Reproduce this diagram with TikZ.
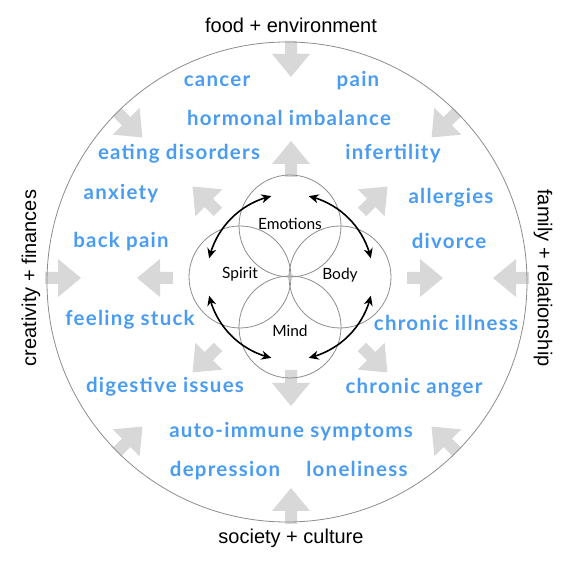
\documentclass[tikz,border=0pt]{standalone}
\usepackage{fontspec}
\setmainfont{Lato}
\newfontfamily\arialf{Liberation Sans}
\newfontfamily\issuefont[LetterSpace=6]{Lato}
\usetikzlibrary{arrows.meta,bending,calc}
\definecolor{issueblue}{RGB}{74,156,240}
\definecolor{arrowgrey}{RGB}{216,216,216}
\definecolor{ringgrey}{RGB}{140,140,140}
\tikzset{
 issue/.style={text=issueblue, font=\issuefont\fontsize{20.5}{22}\selectfont\bfseries, anchor=base, inner sep=0pt},
 factor/.style={font=\arialf\fontsize{20}{23}\selectfont, inner sep=0pt},
 aspect/.style={font=\fontsize{15.5}{17}\selectfont, anchor=base, inner sep=0pt},
 ring/.style={draw=ringgrey, line width=0.8pt},
 cyclearrow/.style={line width=1.6pt, {Stealth[length=10pt,width=9pt,flex]}-{Stealth[length=10pt,width=9pt,flex]}},
}
\newcommand{\blockarr}[3]{%
 \fill[arrowgrey, shift={(#1,#2)}, rotate=#3] (0,-6) -- (13,-6) -- (13,-19) -- (36,0) -- (13,19) -- (13,6) -- (0,6) -- cycle;}
\begin{document}
\begin{tikzpicture}[x=1pt,y=1pt]
\useasboundingbox (0,0) rectangle (582,570);
% outer grey arrows (inward)
\blockarr{291}{529}{-90}
\blockarr{291}{46}{90}
\blockarr{45}{292}{0}
\blockarr{529}{292}{180}
\blockarr{117}{458}{-45}
\blockarr{457}{458}{-135}
\blockarr{117}{118}{45}
\blockarr{457}{118}{135}
% inner grey arrows (outward)
\blockarr{291}{393}{90}
\blockarr{291}{200}{-90}
\blockarr{173}{292}{180}
\blockarr{407}{292}{0}
\blockarr{218}{358}{135}
\blockarr{362}{358}{45}
\blockarr{218}{223}{-135}
\blockarr{362}{223}{-45}
% circles
\coordinate (O) at (287,288);
\coordinate (C) at (290,293);
\draw[ring] (O) circle[radius=240];
\draw[ring] (290,344) circle[radius=51];
\draw[ring] (240,293) circle[radius=51];
\draw[ring] (340,293) circle[radius=51];
\draw[ring] (290,243) circle[radius=51];
% black cycle arrows
\draw[cyclearrow] ($(C)+(13:83)$) arc[start angle=13, end angle=77, radius=83];
\draw[cyclearrow] ($(C)+(103:83)$) arc[start angle=103, end angle=167, radius=83];
\draw[cyclearrow] ($(C)+(193:83)$) arc[start angle=193, end angle=257, radius=83];
\draw[cyclearrow] ($(C)+(283:83)$) arc[start angle=283, end angle=347, radius=83];
% inner labels
\node[aspect] (emo) at (290,340) {Emotions};
\node[aspect] (spi) at (240,291) {Spirit};
\node[aspect] (bod) at (340,290) {Body};
\node[aspect] (min) at (290,233) {Mind};
% factors
\node[factor, anchor=base] (food) at (291,537) {food + environment};
\node[factor, anchor=base] (soc) at (291,26) {society + culture};
\node[factor, rotate=90] (cre) at (31,292) {creativity + finances};
\node[factor, rotate=-90] (fam) at (543,292) {family + relationship};
% issues
\node[issue] (i1) at (217,483) {cancer};
\node[issue] (i2) at (358,483) {pain};
\node[issue] (i3) at (289,444) {hormonal imbalance};
\node[issue] (i4) at (179,410) {eating disorders};
\node[issue] (i5) at (393,410) {infertility};
\node[issue] (i6) at (121,370) {anxiety};
\node[issue] (i7) at (451,366) {allergies};
\node[issue] (i8) at (121,322) {back pain};
\node[issue] (i9) at (449,321) {divorce};
\node[issue] (i10) at (130,244) {feeling stuck};
\node[issue] (i11) at (446,239) {chronic illness};
\node[issue] (i12) at (165,177) {digestive issues};
\node[issue] (i13) at (414,176) {chronic anger};
\node[issue] (i14) at (291,132) {auto-immune symptoms};
\node[issue] (i15) at (225,93) {depression};
\node[issue] (i16) at (357,93) {loneliness};
\end{tikzpicture}
\end{document}
